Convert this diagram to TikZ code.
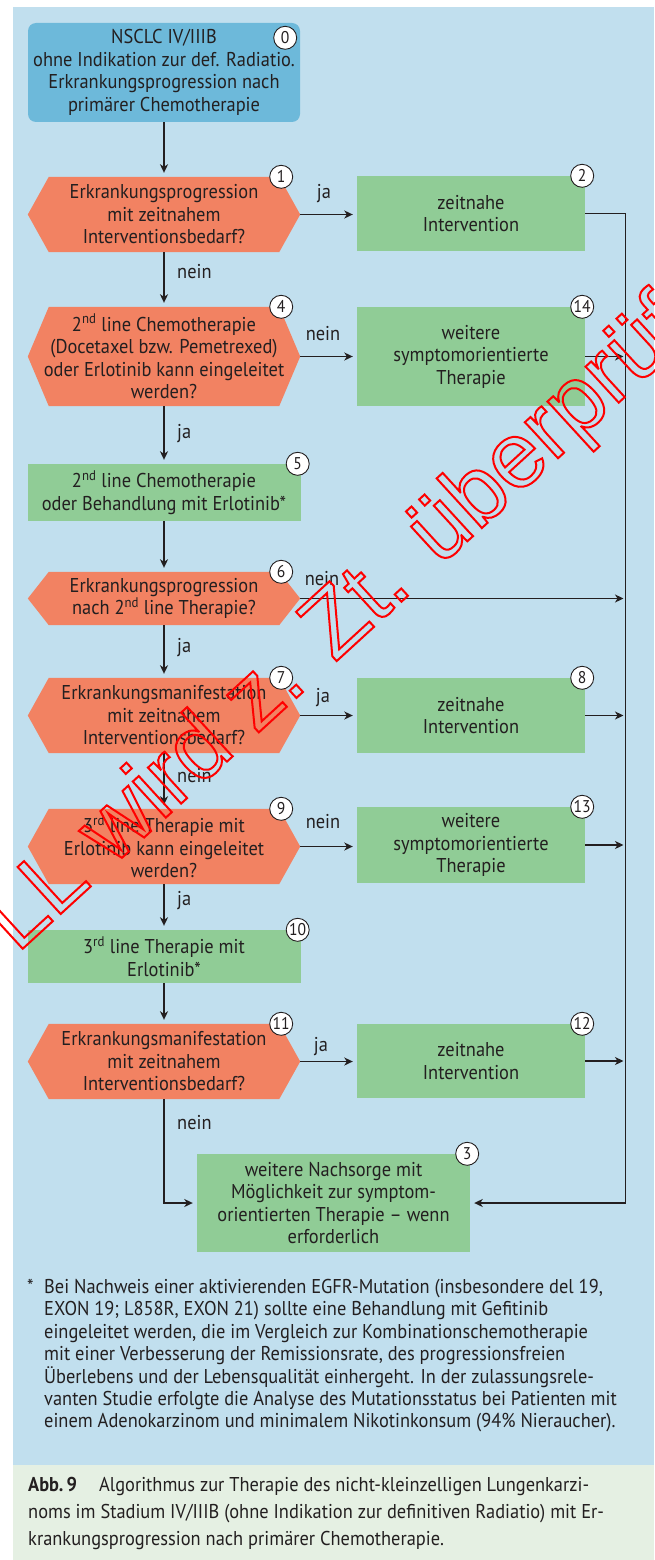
\documentclass[tikz,border=0pt]{standalone}
\usepackage{fontspec}
\setmainfont{PT Sans}[FakeStretch=0.92]
\newfontfamily\wmfont{Liberation Sans}
\usetikzlibrary{arrows.meta,backgrounds,calc}
\definecolor{panelblue}{RGB}{193,223,238}
\definecolor{startblue}{RGB}{109,185,218}
\definecolor{decorange}{RGB}{242,130,98}
\definecolor{actgreen}{RGB}{144,204,150}
\definecolor{capgreen}{RGB}{229,240,227}
\definecolor{ink}{RGB}{35,31,32}
\definecolor{wmred}{RGB}{255,0,0}
\tikzset{
  txt/.style={inner sep=0pt, align=center, text=ink},
  startbox/.style={txt, fill=startblue, rounded corners=8pt, minimum width=272pt, minimum height=99pt},
  actbox/.style={txt, fill=actgreen},
  hexbox/.style={txt, minimum width=272pt},
  badge/.style={circle, draw=ink, fill=white, line width=0.9pt, minimum size=23pt, inner sep=0pt, text=ink, font=\fontsize{17}{17}\selectfont},
  conn/.style={draw=ink, line width=1.8pt},
  arr/.style={conn, -{Stealth[length=8.5pt,width=8pt,inset=2.5pt]}, shorten >=4pt},
  arrv/.style={conn, -{Stealth[length=8.5pt,width=8pt,inset=2.5pt]}, shorten >=2pt},
  lab/.style={inner sep=0pt, text=ink},
}
\begin{document}
\begin{tikzpicture}[x=1pt, y=-1pt, font=\fontsize{20}{22.5}\selectfont]
\useasboundingbox (0,0) rectangle (654,1560);
% nodes
\node[startbox] (n0) at (164,72.5) {NSCLC IV/IIIB\\ohne Indikation zur def. Radiatio.\\Erkrankungsprogression nach\\primärer Chemotherapie};
\node[hexbox, minimum height=75pt] (n1) at (164,214.5) {Erkrankungsprogression\\mit zeitnahem\\Interventionsbedarf?};
\node[actbox, minimum width=228pt, minimum height=75pt] (n2) at (471,213.5) {zeitnahe\\Intervention};
\node[hexbox, minimum height=99pt] (n4) at (164,356.5) {2\textsuperscript{nd} line Chemotherapie\\(Docetaxel bzw. Pemetrexed)\\oder Erlotinib kann eingeleitet\\werden?};
\node[actbox, minimum width=228pt, minimum height=99pt] (n14) at (471,356.5) {weitere\\symptomorientierte\\Therapie};
\node[actbox, minimum width=273pt, minimum height=57pt] (n5) at (164,492.5) {2\textsuperscript{nd} line Chemotherapie\\oder Behandlung mit Erlotinib*};
\node[hexbox, minimum height=53pt] (n6) at (164,598.5) {Erkrankungsprogression\\nach 2\textsuperscript{nd} line Therapie?};
\node[hexbox, minimum height=75pt] (n7) at (164,715.5) {Erkrankungsmanifestation\\mit zeitnahem\\Interventionsbedarf?};
\node[actbox, minimum width=228pt, minimum height=75pt] (n8) at (471,715.5) {zeitnahe\\Intervention};
\node[hexbox, minimum height=75pt] (n9) at (164,846.5) {3\textsuperscript{rd} line Therapie mit\\Erlotinib kann eingeleitet\\werden?};
\node[actbox, minimum width=228pt, minimum height=76pt] (n13) at (471,845) {weitere\\symptomorientierte\\Therapie};
\node[actbox, minimum width=273pt, minimum height=53pt] (n10) at (164,956.5) {3\textsuperscript{rd} line Therapie mit\\Erlotinib*};
\node[hexbox, minimum height=75pt] (n11) at (164,1061.5) {Erkrankungsmanifestation\\mit zeitnahem\\Interventionsbedarf?};
\node[actbox, minimum width=228pt, minimum height=74pt] (n12) at (471,1061) {zeitnahe\\Intervention};
\node[actbox, minimum width=273pt, minimum height=98pt] (n3) at (333.5,1203) {weitere Nachsorge mit\\Möglichkeit zur symptom-\\orientierten Therapie -- wenn\\erforderlich};
% background
\begin{scope}[on background layer]
\fill[panelblue] (12.5,7) rectangle (654,1465);
\fill[capgreen] (12.5,1465) rectangle (654,1560);
\foreach \n in {n1,n4,n6,n7,n9,n11}{
  \fill[decorange] (\n.west) -- ([xshift=21pt]\n.north west) -- ([xshift=-21pt]\n.north east) -- (\n.east) -- ([xshift=-21pt]\n.south east) -- ([xshift=21pt]\n.south west) -- cycle;
}
\end{scope}
% badges
\node[badge] (b0) at ([xshift=-15pt,yshift=-15pt]n0.north east) {0};
\node[badge] (b1) at ([xshift=-19pt]n1.north east) {1};
\node[badge] (b2) at ([xshift=-3pt]n2.north east) {2};
\node[badge] (b4) at ([xshift=-19pt]n4.north east) {4};
\node[badge] (b14) at ([xshift=-3pt]n14.north east) {14};
\node[badge] (b5) at ([xshift=-3pt]n5.north east) {5};
\node[badge] (b6) at ([xshift=-19pt]n6.north east) {6};
\node[badge] (b7) at ([xshift=-19pt]n7.north east) {7};
\node[badge] (b8) at ([xshift=-3pt]n8.north east) {8};
\node[badge] (b9) at ([xshift=-19pt]n9.north east) {9};
\node[badge] (b13) at ([xshift=-3pt]n13.north east) {13};
\node[badge] (b10) at ([xshift=-3pt]n10.north east) {10};
\node[badge] (b11) at ([xshift=-19pt]n11.north east) {11};
\node[badge] (b12) at ([xshift=-3pt]n12.north east) {12};
\node[badge] (b3) at ([xshift=-3pt]n3.north east) {3};
% connectors
\coordinate (vbot) at (625.5,1203);
\draw[arr] (n0) -- (n1);
\draw[arr] (n1.east) -- (n1.east -| n2.west);
\draw[arr] (n1) -- (n4);
\draw[arr] (n4.east) -- (n4.east -| n14.west);
\draw[arr] (n4) -- (n5);
\draw[arr] (n5) -- (n6);
\draw[arr] (n6) -- (n7);
\draw[arr] (n7.east) -- (n7.east -| n8.west);
\draw[arr] (n7) -- (n9);
\draw[arr] (n9.east) -- (n9.east -| n13.west);
\draw[arr] (n9) -- (n10);
\draw[arr] (n10) -- (n11);
\draw[arr] (n11.east) -- (n11.east -| n12.west);
\draw[arr] (n11.south) -- (n11.south |- n3.west) -- (n3.west);
\draw[arr] (n2.east) -- (n2.east -| vbot) -- (vbot) -- (n3.east);
\draw[arrv] (n14.east) -- (n14.east -| vbot);
\draw[arrv] (n6.east) -- (n6.east -| vbot);
\draw[arrv] (n8.east) -- (n8.east -| vbot);
\draw[arrv] (n13.east) -- (n13.east -| vbot);
\draw[arrv] (n12.east) -- (n12.east -| vbot);
% labels
\node[lab, anchor=base] (l1) at (324,198) {ja};
\node[lab, anchor=base west] (l2) at (177,278) {nein};
\node[lab, anchor=base] (l3) at (323,340) {nein};
\node[lab, anchor=base west] (l4) at (177,438) {ja};
\node[lab, anchor=base] (l5) at (322,585) {nein};
\node[lab, anchor=base west] (l6) at (177,652) {ja};
\node[lab, anchor=base] (l7) at (323,702) {ja};
\node[lab, anchor=base west] (l8) at (177,782) {nein};
\node[lab, anchor=base] (l9) at (323,828) {nein};
\node[lab, anchor=base west] (l10) at (177,905) {ja};
\node[lab, anchor=base] (l11) at (321,1051) {ja};
\node[lab, anchor=base west] (l12) at (177,1129) {nein};
% footnote
\node[lab, anchor=north west, align=left, font=\fontsize{20}{22.4}\selectfont] (fn) at (44,1279) {Bei Nachweis einer aktivierenden EGFR-Mutation (insbesondere del 19,\\EXON 19; L858R, EXON 21) sollte eine Behandlung mit Gefitinib\\eingeleitet werden, die im Vergleich zur Kombinationschemotherapie\\mit einer Verbesserung der Remissionsrate, des progressionsfreien\\Überlebens und der Lebensqualität einhergeht. In der zulassungsrele-\\vanten Studie erfolgte die Analyse des Mutationsstatus bei Patienten mit\\einem Adenokarzinom und minimalem Nikotinkonsum (94\% Nieraucher).};
\node[lab, anchor=north west] (ast) at (27,1279) {*};
% caption
\node[lab, anchor=north west, align=left, font=\fontsize{20}{26.8}\selectfont] (cap) at (28,1477) {\textbf{Abb.\,9}\hspace{22pt}Algorithmus zur Therapie des nicht-kleinzelligen Lungenkarzi-\\noms im Stadium IV/IIIB (ohne Indikation zur definitiven Radiatio) mit Er-\\krankungsprogression nach primärer Chemotherapie.};
% watermark
\node[rotate=42.5, anchor=base west, inner sep=0pt, text=wmred, font=\wmfont\fontsize{92.6}{92.6}\selectfont] (wm) at (17,954) {\special{pdf:literal direct 1 Tr 2 w 1 0 0 RG}LL wird z. Zt. überprüft\special{pdf:literal direct 0 Tr}};
\end{tikzpicture}
\end{document}
